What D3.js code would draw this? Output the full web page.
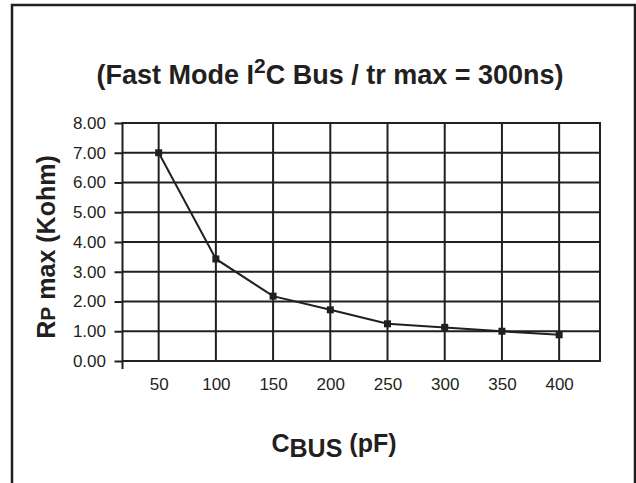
<!DOCTYPE html>
<html>
<head>
<meta charset="utf-8">
<script src="https://d3js.org/d3.v7.min.js"></script>
<style>
  body { margin: 0; background: #fff; }
  text { font-family: "Liberation Sans", Arial, Helvetica, sans-serif; fill: #231f20; }
</style>
</head>
<body>
<div id="chart"></div>
<script>
// chart data
var busCap = [50, 100, 150, 200, 250, 300, 350, 400];          // C BUS (pF)
var rpMax = [7.00, 3.43, 2.18, 1.72, 1.25, 1.13, 1.00, 0.88];  // Rp max (Kohm)
var yTicks = [0, 1, 2, 3, 4, 5, 6, 7, 8];

var svgWidth = 636;
var svgHeight = 483;
var ink = "#231f20";

var margin = { top: 123, left: 122.5, right: 36, bottom: 122 };
var width = svgWidth - margin.left - margin.right;
var height = svgHeight - margin.top - margin.bottom;

var svg = d3.select("#chart")
  .append("svg")
  .attr("width", svgWidth)
  .attr("height", svgHeight);

// outer frame (bottom runs off the picture)
svg.append("path")
  .attr("d", "M12,490 L12,5 L635,5 L635,490")
  .attr("fill", "none")
  .attr("stroke", ink)
  .attr("stroke-width", 2.5);

// title
var title = svg.append("text")
  .attr("x", 330)
  .attr("y", 84)
  .attr("text-anchor", "middle")
  .attr("font-size", "27px")
  .attr("font-weight", "bold");
title.append("tspan").text("(Fast Mode I");
title.append("tspan").attr("font-size", "21px").attr("dy", -11).text("2");
title.append("tspan").attr("dy", 11).text("C Bus / tr max = 300ns)");

var chartGroup = svg.append("g")
  .attr("transform", `translate(${margin.left}, ${margin.top})`);

// scales
var xScale = d3.scaleLinear()
  .domain([18.4, 435.7])
  .range([0, width]);

var yScale = d3.scaleLinear()
  .domain([0, 8])
  .range([height, 0]);

// grid
chartGroup.append("g").selectAll("line")
  .data(yTicks)
  .enter()
  .append("line")
  .attr("x1", 0)
  .attr("x2", width)
  .attr("y1", d => yScale(d))
  .attr("y2", d => yScale(d))
  .attr("stroke", ink)
  .attr("stroke-width", 2);

chartGroup.append("g").selectAll("line")
  .data(busCap)
  .enter()
  .append("line")
  .attr("x1", d => xScale(d))
  .attr("x2", d => xScale(d))
  .attr("y1", 0)
  .attr("y2", height)
  .attr("stroke", ink)
  .attr("stroke-width", 2);

chartGroup.append("rect")
  .attr("width", width)
  .attr("height", height)
  .attr("fill", "none")
  .attr("stroke", ink)
  .attr("stroke-width", 2);

// axes
var yAxis = d3.axisLeft(yScale)
  .tickValues(yTicks)
  .tickSize(8)
  .tickPadding(8.5)
  .tickFormat(d3.format(".2f"));

var xAxis = d3.axisBottom(xScale)
  .tickValues(busCap)
  .tickSize(0)
  .tickPadding(16.5)
  .tickFormat(d3.format("d"));

var yG = chartGroup.append("g").call(yAxis);
var xG = chartGroup.append("g")
  .attr("transform", `translate(0, ${height})`)
  .call(xAxis);

[yG, xG].forEach(function(g) {
  g.select(".domain").remove();
  g.selectAll("line").attr("stroke", ink).attr("stroke-width", 2);
  g.selectAll("text")
    .attr("font-size", "17px")
    .attr("font-family", "'Liberation Sans', Arial, sans-serif")
    .attr("fill", ink);
});

// left end tick below the x axis
chartGroup.append("line")
  .attr("x1", 0).attr("x2", 0)
  .attr("y1", height).attr("y2", height + 8)
  .attr("stroke", ink)
  .attr("stroke-width", 2);

// series
var line = d3.line()
  .x((d, i) => xScale(busCap[i]))
  .y(d => yScale(d));

chartGroup.append("path")
  .datum(rpMax)
  .attr("d", line)
  .attr("fill", "none")
  .attr("stroke", ink)
  .attr("stroke-width", 2);

chartGroup.append("g").selectAll("rect")
  .data(rpMax)
  .enter()
  .append("rect")
  .attr("x", (d, i) => xScale(busCap[i]) - 3.5)
  .attr("y", d => yScale(d) - 3.5)
  .attr("width", 7)
  .attr("height", 7)
  .attr("fill", ink);

// x axis label
var xLabel = svg.append("text")
  .attr("x", 334)
  .attr("y", 452)
  .attr("text-anchor", "middle")
  .attr("font-size", "25px")
  .attr("font-weight", "bold");
xLabel.append("tspan").text("C");
xLabel.append("tspan").attr("dy", 5).text("BUS");
xLabel.append("tspan").attr("dy", -5).text(" (pF)");

// y axis label
var yLabel = svg.append("text")
  .attr("transform", "translate(55, 247) rotate(-90)")
  .attr("text-anchor", "middle")
  .attr("font-size", "25px")
  .attr("font-weight", "bold");
yLabel.append("tspan").text("R");
yLabel.append("tspan").attr("font-size", "21px").text("P");
yLabel.append("tspan").text(" max (Kohm)");
</script>
</body>
</html>
